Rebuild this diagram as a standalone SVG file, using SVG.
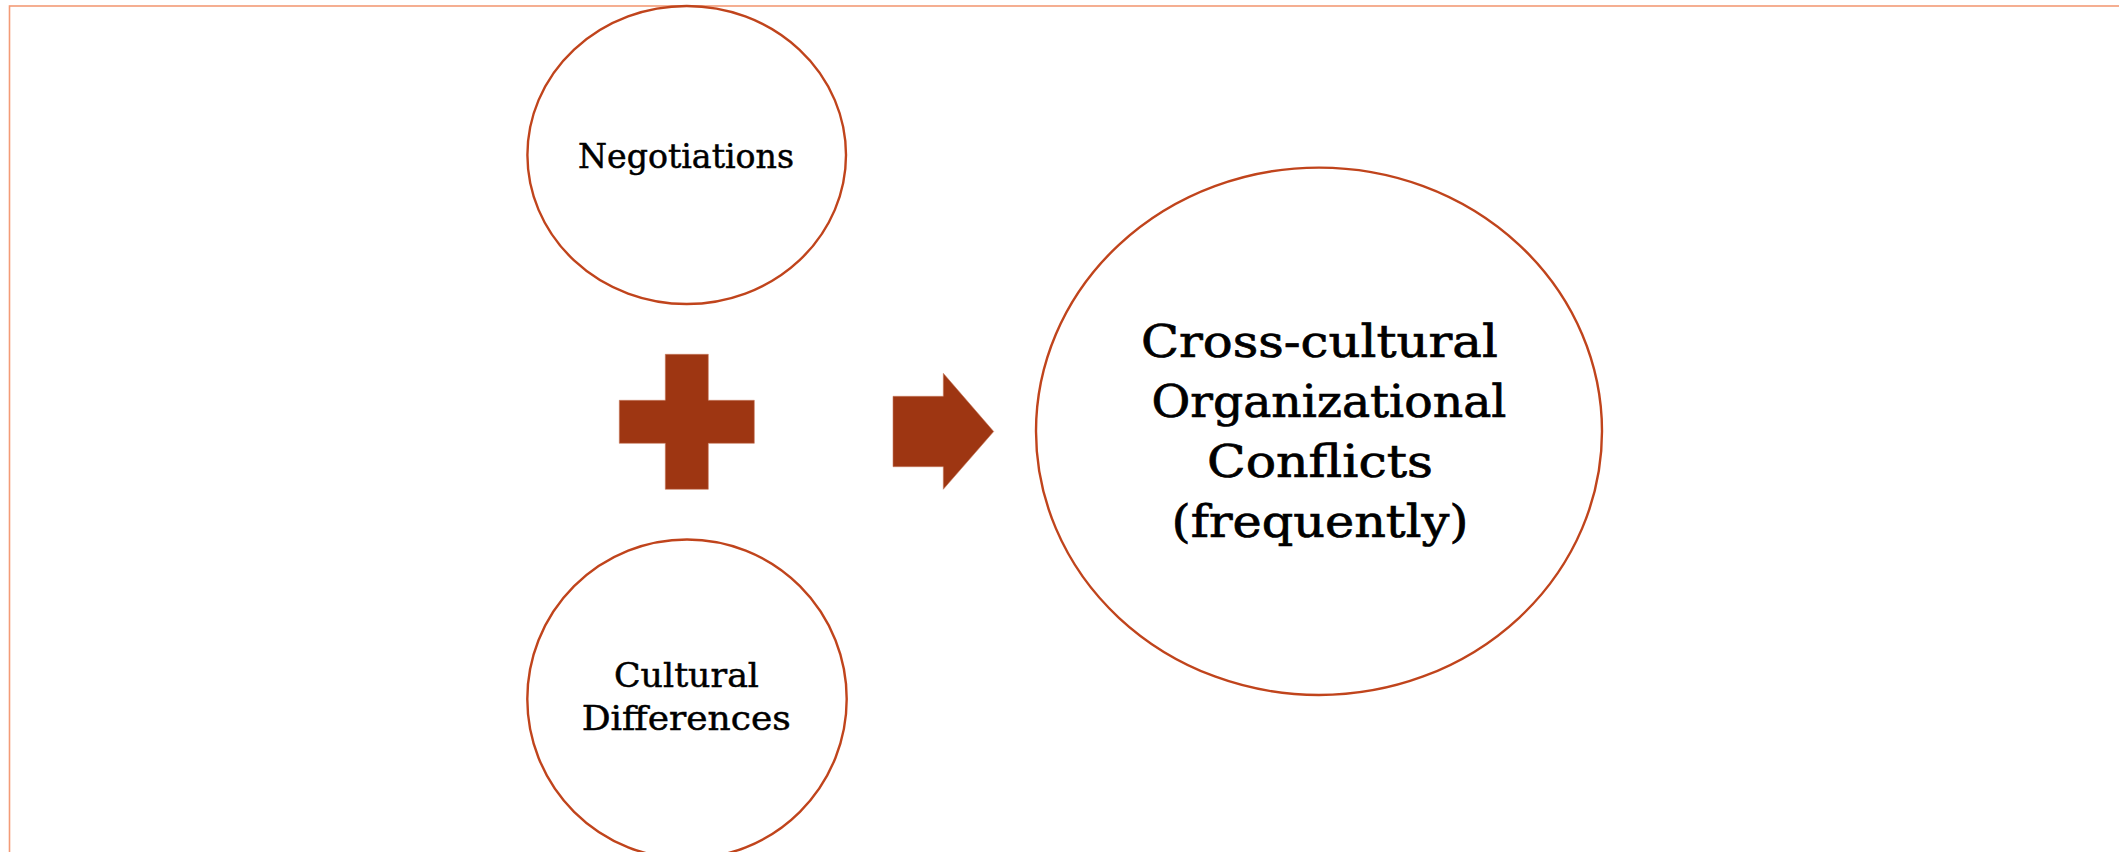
<svg xmlns="http://www.w3.org/2000/svg" width="2119" height="852" viewBox="0 0 2119 852">
  <style>
    .frame { fill: none; stroke: #F39B77; stroke-width: 1.6; }
    .node { fill: #FFFFFF; stroke: #C0441C; stroke-width: 2.4; }
    .sym { fill: #9E3612; stroke: #C77A5E; stroke-width: 0.6; }
    .lbl { font-family: "DejaVu Serif", "Liberation Serif", serif; fill: #000000; stroke: #000000; text-anchor: middle; }
    .small { font-size: 34px; stroke-width: 0.5; }
    .big { font-size: 45px; stroke-width: 0.7; }
  </style>

  <rect width="2119" height="852" fill="#FFFFFF"/>
  <!-- slide frame -->
  <rect class="frame" x="9.5" y="6" width="2200" height="900"/>

  <g id="negotiations">
    <ellipse class="node" cx="686.7" cy="155" rx="159.3" ry="149"/>
    <text class="lbl small" x="686" y="168" textLength="216" lengthAdjust="spacingAndGlyphs">Negotiations</text>
  </g>

  <g id="cultural-differences">
    <ellipse class="node" cx="687" cy="699" rx="159.7" ry="159.5"/>
    <text class="lbl small" x="686.5" y="686.7" textLength="145" lengthAdjust="spacingAndGlyphs">Cultural</text>
    <text class="lbl small" x="686.2" y="730" textLength="209" lengthAdjust="spacingAndGlyphs">Differences</text>
  </g>

  <g id="conflicts">
    <ellipse class="node" cx="1319" cy="431.3" rx="283" ry="263.7"/>
    <text class="lbl big" x="1319.4" y="357" textLength="357" lengthAdjust="spacingAndGlyphs">Cross-cultural</text>
    <text class="lbl big" x="1329" y="417" textLength="355" lengthAdjust="spacingAndGlyphs">Organizational</text>
    <text class="lbl big" x="1320" y="477" textLength="226" lengthAdjust="spacingAndGlyphs">Conflicts</text>
    <text class="lbl big" x="1320" y="537" textLength="297" lengthAdjust="spacingAndGlyphs">(frequently)</text>
  </g>

  <g id="connectors">
    <!-- plus sign between the two inputs -->
    <path class="sym" d="M665.3 354.3 H708.3 V400.3 H754.3 V443.3 H708.3 V489.3 H665.3 V443.3 H619.3 V400.3 H665.3 Z"/>
    <!-- block arrow toward the result -->
    <path class="sym" d="M893 396.3 H943.3 V373.3 L993.7 431.5 L943.3 489.3 V466.7 H893 Z"/>
  </g>
</svg>
